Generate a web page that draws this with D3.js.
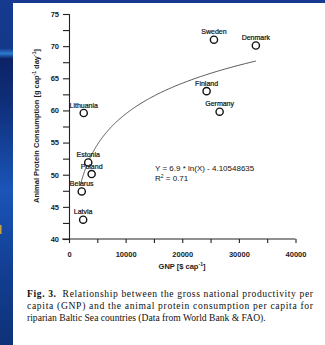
<!DOCTYPE html>
<html><head><meta charset="utf-8">
<script src="https://cdn.jsdelivr.net/npm/d3@7"></script>
<style>html,body{margin:0;padding:0;background:#fff;overflow:hidden}</style>
</head><body>
<svg id="c" width="325" height="345"></svg>
<script>
const countries = ["Sweden","Denmark","Finland","Germany","Lithuania","Estonia","Poland","Belarus","Latvia"];
const gnp = [25600, 33000, 24300, 26600, 2600, 3400, 4000, 2250, 2500];
const protein = [71.0, 70.1, 63.0, 59.8, 59.6, 51.9, 50.1, 47.4, 43.0];
const xTicks = [0, 10000, 20000, 30000, 40000];
const yTicks = [40, 45, 50, 55, 60, 65, 70, 75];
const fitA = 6.9, fitB = -4.10548635;
const fitRange = [2000, 33000];
const caption = [
  ["Fig. 3.", "  Relationship between the gross national productivity per"],
  ["", "capita (GNP) and the animal protein consumption per capita for"],
  ["", "riparian Baltic Sea countries (Data from World Bank & FAO)."]
];

const svg = d3.select("#c");
const defs = svg.append("defs");
const g1 = defs.append("linearGradient").attr("id","bg").attr("x1",0).attr("y1",0).attr("x2",0).attr("y2",1);
[[0,"#163a90"],[0.14,"#143889"],[0.155,"#2a7ad0"],[0.17,"#0c2466"],[0.3,"#0f2e7a"],[0.55,"#1a55b8"],[0.8,"#123d90"],[1,"#0e3278"]]
  .forEach(([o,c])=>g1.append("stop").attr("offset",o).attr("stop-color",c));
svg.append("rect").attr("width",325).attr("height",345).attr("fill","url(#bg)");
svg.append("rect").attr("x",13).attr("y",3).attr("width",312).attr("height",342).attr("fill","#fff");
svg.append("rect").attr("x",0).attr("y",225).attr("width",1.5).attr("height",9).attr("fill","#c9a23a");

const x = d3.scaleLinear().domain([0,40000]).range([69,295.5]);
const y = d3.scaleLinear().domain([40,75]).range([239,14]);

const font = "Liberation Sans, Arial, sans-serif";

// y axis
const yAx = svg.append("g").attr("transform","translate(69,0)")
  .call(d3.axisLeft(y).tickValues(d3.range(40,75.01,2.5)).tickSize(6).tickFormat(d=>yTicks.includes(d)?d:""));
yAx.select(".domain").attr("stroke","#222").attr("stroke-width",1.1);
yAx.selectAll(".tick line").attr("stroke","#222").attr("stroke-width",1.1);
yAx.selectAll(".tick text").attr("font-family",font).attr("font-size",7.5).attr("font-weight","bold").attr("fill","#222").attr("x",-10);

// x axis
const xAx = svg.append("g").attr("transform","translate(0,239)")
  .call(d3.axisBottom(x).tickValues(d3.range(0,40001,5000)).tickSize(4).tickSizeOuter(0).tickFormat(d=>xTicks.includes(d)?d:""));
xAx.select(".domain").attr("stroke","#222").attr("stroke-width",1.1).attr("d","M62,0H295.5");
xAx.selectAll(".tick line").attr("stroke","#222").attr("stroke-width",1.1);
xAx.selectAll(".tick text").attr("font-family",font).attr("font-size",7.5).attr("font-weight","bold").attr("fill","#222").attr("y",13);

svg.append("text").attr("x",182).attr("y",268.5).attr("text-anchor","middle")
  .attr("font-family",font).attr("font-size",7.5).attr("font-weight","bold").attr("fill","#222")
  .html('GNP [$ cap<tspan dy="-2.5" font-size="5">-1</tspan><tspan dy="2.5">]</tspan>');
svg.append("text").attr("transform","translate(38.5,126) rotate(-90)").attr("text-anchor","middle")
  .attr("font-family",font).attr("font-size",7.5).attr("font-weight","bold").attr("fill","#222")
  .html('Animal Protein Consumption [g cap<tspan dy="-2.5" font-size="5">-1</tspan><tspan dy="2.5"> day</tspan><tspan dy="-2.5" font-size="5">-1</tspan><tspan dy="2.5">]</tspan>');

// fit curve
const fx = d3.range(0, 201).map(i => fitRange[0] * Math.pow(fitRange[1]/fitRange[0], i/200));
svg.append("path").datum(fx)
  .attr("d", d3.line().x(d=>x(d)).y(d=>y(fitA*Math.log(d)+fitB)))
  .attr("fill","none").attr("stroke","#444").attr("stroke-width",0.9);

// points
const data = countries.map((c,i)=>({c, gx:gnp[i], py:protein[i]}));
svg.selectAll("circle.pt").data(data).join("circle").attr("class","pt")
  .attr("cx",d=>x(d.gx)).attr("cy",d=>y(d.py)).attr("r",3.6)
  .attr("fill","#fff").attr("stroke","#111").attr("stroke-width",1.4);
svg.selectAll("text.lb").data(data).join("text").attr("class","lb")
  .attr("x",d=>x(d.gx)).attr("y",d=>y(d.py)-5.5).attr("text-anchor","middle")
  .attr("font-family",font).attr("font-size",7).attr("fill","#111")
  .attr("stroke","#111").attr("stroke-width",0.2).text(d=>d.c);

// equation
svg.append("text").attr("x",155).attr("y",171).attr("font-family",font).attr("font-size",8).attr("fill","#111")
  .text("Y = " + fitA + " * ln(X) - " + Math.abs(fitB));
svg.append("text").attr("x",155).attr("y",180.5).attr("font-family",font).attr("font-size",8).attr("fill","#111")
  .html('R<tspan dy="-2.5" font-size="5">2</tspan><tspan dy="2.5"> = 0.71</tspan>');

// caption
const cap = svg.append("g").attr("font-family","Liberation Serif, Times New Roman, serif").attr("font-size",9.6).attr("fill","#111");
caption.forEach((ln,i)=>{
  const t = cap.append("text").attr("x",27).attr("y",297+i*12).attr("xml:space","preserve");
  if (i<2) t.attr("textLength",286).attr("lengthAdjust","spacing");
  if (ln[0]) t.append("tspan").attr("font-weight","bold").text(ln[0]);
  t.append("tspan").text(ln[1]);
});
</script>
</body></html>
